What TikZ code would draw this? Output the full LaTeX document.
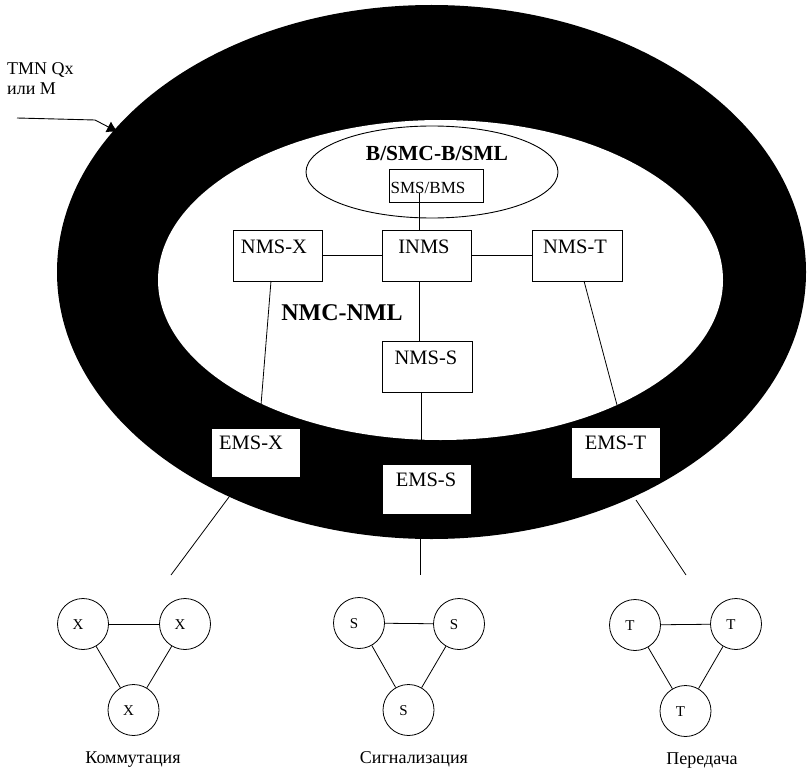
\documentclass[tikz,border=0pt]{standalone}
\usepackage{fontspec}
\usetikzlibrary{arrows.meta}
\setmainfont{Liberation Serif}
% raise, horizontal shift (twice the wanted shift), text
\newcommand{\uptxt}[3]{\smash{\raisebox{#1}{\makebox[0pt]{\hspace*{#2}#3}}}}
\newcommand{\ltr}[1]{\uptxt{-5pt}{-10pt}{#1}}
\begin{document}
\begin{tikzpicture}[x=1pt,y=-1pt,
  boxn/.style={draw=black,fill=white,line width=0.8pt,minimum width=89pt,minimum height=51pt,inner sep=0pt,font=\fontsize{20.5}{22}\selectfont},
  emsn/.style={fill=white,minimum width=88pt,minimum height=48pt,inner sep=0pt,font=\fontsize{20.5}{22}\selectfont},
  circn/.style={circle,draw=black,line width=0.8pt,minimum size=51pt,inner sep=0pt,font=\fontsize{15}{17}\selectfont},
  conn/.style={draw=black,line width=0.8pt},
  captxt/.style={font=\fontsize{18}{20}\selectfont}]
\useasboundingbox (0,0) rectangle (808,773);
\fill[black] (431.5,272) ellipse [x radius=374.5,y radius=267];
\fill[white] (440.5,280) ellipse [x radius=282.5,y radius=160];
\draw[line width=0.9pt,fill=white] (432,172) ellipse [x radius=126,y radius=46];
% nodes
\node[draw=black,fill=white,line width=0.8pt,minimum width=94pt,minimum height=33pt,inner sep=0pt,font=\fontsize{17}{19}\selectfont] (sms) at (436,185.5) {\uptxt{-8pt}{-16pt}{SMS/BMS}};
\node[font=\bfseries\fontsize{21.5}{23}\selectfont] (bsm) at (437,153) {B/SMC-B/SML};
\node[boxn] (nx) at (277.5,255.5) {\uptxt{2pt}{-7pt}{NMS-X}};
\node[boxn] (in) at (427,255.5) {\uptxt{2pt}{-6pt}{INMS}};
\node[boxn,minimum width=90pt] (nt) at (577,255.5) {\uptxt{2pt}{-4pt}{NMS-T}};
\node[boxn,minimum width=90pt] (ns) at (427,366.5) {\uptxt{2pt}{-2pt}{NMS-S}};
\node[font=\bfseries\fontsize{24}{26}\selectfont] (nmc) at (342,313) {NMC-NML};
\node[emsn] (ex) at (256,453) {\uptxt{3.5pt}{-10pt}{EMS-X}};
\node[emsn,minimum height=49pt] (es) at (427,489.5) {\uptxt{3.5pt}{-2pt}{EMS-S}};
\node[emsn,minimum height=50pt] (et) at (615.5,453) {\uptxt{3.5pt}{0pt}{EMS-T}};
\node[circn] (x1) at (83,624) {\ltr{X}};
\node[circn] (x2) at (185,624) {\ltr{X}};
\node[circn] (x3) at (133.5,710) {\ltr{X}};
\node[circn] (s1) at (359,623) {\ltr{S}};
\node[circn] (s2) at (459,624) {\ltr{S}};
\node[circn] (s3) at (408.5,710) {\ltr{S}};
\node[circn] (t1) at (635,625) {\ltr{T}};
\node[circn] (t2) at (736,624) {\ltr{T}};
\node[circn] (t3) at (685.5,711) {\ltr{T}};
\node[captxt] (cx) at (133,760) {Коммутация};
\node[captxt] (cs) at (414,759) {Сигнализация};
\node[captxt] (ct) at (702,761) {Передача};
\node[captxt,anchor=north west,align=left,inner sep=0pt] (tmn) at (7,62) {TMN Qx\\или M};
% free ends
\coordinate (a0) at (17,118);
\coordinate (a1) at (95,120);
\coordinate (a2) at (118,132);
\coordinate (lx) at (171,575);
\coordinate (ls) at (420,575);
\coordinate (lt) at (686,575);
\coordinate (lxm) at (229,497);
\coordinate (ltm) at (636,500);
\coordinate (lsm) at (420,538);
\coordinate (nxb) at (271,281);
\coordinate (exa) at (261,405);
\coordinate (ntb) at (584,281);
\coordinate (eta) at (617,405);
\coordinate (smb) at (419,193);
\coordinate (ina) at (419,230);
\coordinate (inb) at (419,281);
\coordinate (nsa) at (419,341);
\coordinate (nsb) at (421,392);
\coordinate (esa) at (421,440);
% connectors
\draw[conn] (nx) -- (in);
\draw[conn] (in) -- (nt);
\draw[conn] (smb) -- (ina);
\draw[conn] (inb) -- (nsa);
\draw[conn] (nsb) -- (esa);
\draw[conn] (nxb) -- (exa);
\draw[conn] (ntb) -- (eta);
\draw[conn] (lxm) -- (lx);
\draw[conn] (lsm) -- (ls);
\draw[conn] (ltm) -- (lt);
\draw[conn,line width=0.9pt,-{Latex[length=11pt,width=12pt]}] (a0) -- (a1) -- (a2);
\draw[conn] (x1) -- (x2); \draw[conn] (x1) -- (x3); \draw[conn] (x2) -- (x3);
\draw[conn] (s1) -- (s2); \draw[conn] (s1) -- (s3); \draw[conn] (s2) -- (s3);
\draw[conn] (t1) -- (t2); \draw[conn] (t1) -- (t3); \draw[conn] (t2) -- (t3);
\end{tikzpicture}
\end{document}
